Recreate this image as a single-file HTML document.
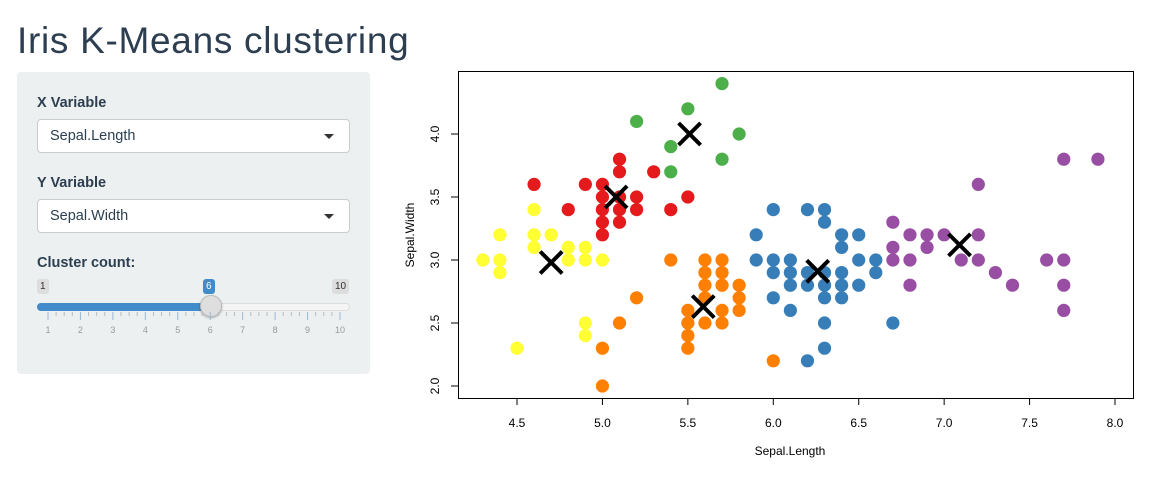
<!DOCTYPE html>
<html><head><meta charset="utf-8">
<style>
body{margin:0;width:1152px;height:499px;background:#fff;font-family:"Liberation Sans",sans-serif;color:#2c3e50;position:relative;overflow:hidden}
h1{position:absolute;left:17px;top:17px;margin:0;font-weight:normal;font-size:37px;line-height:48px;letter-spacing:0.7px}
.panel{position:absolute;left:17px;top:72px;width:353px;height:302px;background:#ecf0f1;border-radius:4px}
.lab{position:absolute;left:20px;font-weight:bold;font-size:14.5px}
.sel{position:absolute;left:20px;width:311px;height:32px;background:#fff;border:1px solid #ccc;border-radius:4px;font-size:14.5px;line-height:32px;box-sizing:content-box}
.sel span{margin-left:12px}
.sel i{position:absolute;right:15px;top:14px;border-left:5px solid transparent;border-right:5px solid transparent;border-top:5px solid #333}
.badge{position:absolute;font-size:10px;height:15px;line-height:15px;padding:0 3px;border-radius:3px;background:#ddd;color:#333}
</style></head><body>
<h1>Iris K-Means clustering</h1>
<div class="panel">
<div class="lab" style="top:23px">X Variable</div>
<div class="sel" style="top:47px"><span>Sepal.Length</span><i></i></div>
<div class="lab" style="top:103px">Y Variable</div>
<div class="sel" style="top:127px"><span>Sepal.Width</span><i></i></div>
<div class="lab" style="top:183px">Cluster count:</div>
<div class="badge" style="left:20px;top:207px">1</div>
<div class="badge" style="left:186px;top:207px;background:#428bca;color:#fff">6</div>
<div class="badge" style="left:315px;top:207px">10</div>
<div style="position:absolute;left:20px;top:231px;width:311px;height:6px;border-radius:4px;background:#f5f5f5;border:1px solid #ddd"></div>
<div style="position:absolute;left:20px;top:231px;width:173px;height:8px;border-radius:4px 0 0 4px;background:#428bca"></div>
<div style="position:absolute;left:183px;top:223px;width:20px;height:20px;border-radius:50%;background:#dedede;border:1px solid #bbb;box-shadow:0 1px 2px rgba(0,0,0,.3)"></div>
<svg id="ticks" style="position:absolute;left:0;top:0" width="353" height="302"></svg>
</div>
<svg id="plot" style="position:absolute;left:0;top:0" width="1152" height="499"></svg>
<script>
var t=document.getElementById('ticks'),s='';
for(var i=0;i<=36;i++){var x=31+i*(292/36);var maj=i%4==0;s+='<line x1="'+x+'" x2="'+x+'" y1="240" y2="'+(maj?248:244)+'" stroke="'+(maj?'#9ab8d6':'#bbb')+'" stroke-width="1"/>';if(maj)s+='<text x="'+x+'" y="261" font-size="9" fill="#999" text-anchor="middle" font-family="Liberation Sans">'+(i/4+1)+'</text>';}
t.innerHTML=s;
function X(v){return 517+(v-4.5)*170.86}function Y(v){return 386-(v-2)*126}
var C={r:'#E41A1C',b:'#377EB8',g:'#4DAF4A',p:'#984EA3',o:'#FF7F00',y:'#FFFF33'};
var P={
y:[[4.3,3],[4.4,3.2],[4.4,3],[4.4,2.9],[4.6,3.4],[4.6,3.2],[4.7,3.2],[4.6,3.1],[4.8,3.1],[4.9,3.1],[4.8,3],[4.9,3],[5,3],[4.9,2.5],[4.9,2.4],[4.5,2.3]],
r:[[4.6,3.6],[4.8,3.4],[4.9,3.6],[5,3.6],[5,3.5],[5,3.4],[5,3.3],[5,3.2],[5.1,3.8],[5.1,3.7],[5.1,3.4],[5.1,3.3],[5.1,3.5],[5.2,3.5],[5.2,3.4],[5.3,3.7],[5.4,3.4],[5.5,3.5]],
g:[[5.2,4.1],[5.4,3.9],[5.4,3.7],[5.5,4.2],[5.7,4.4],[5.8,4],[5.7,3.8]],
o:[[5.4,3],[5.2,2.7],[5.1,2.5],[5,2.3],[5,2],[5.5,2.6],[5.5,2.5],[5.5,2.4],[5.5,2.3],[5.6,3],[5.6,2.9],[5.6,2.8],[5.6,2.7],[5.6,2.5],[5.7,3],[5.7,2.9],[5.7,2.8],[5.7,2.6],[5.7,2.5],[5.8,2.8],[5.8,2.7],[5.8,2.6],[6,2.2]],
b:[[5.9,3.2],[5.9,3],[6,3.4],[6,3],[6,2.9],[6,2.7],[6.1,3],[6.1,2.9],[6.1,2.8],[6.1,2.6],[6.2,3.4],[6.2,2.9],[6.2,2.8],[6.2,2.2],[6.3,3.4],[6.3,3.3],[6.3,2.9],[6.3,2.8],[6.3,2.7],[6.3,2.5],[6.3,2.3],[6.4,3.2],[6.4,3.1],[6.4,2.9],[6.4,2.8],[6.4,2.7],[6.5,3.2],[6.5,3],[6.5,2.8],[6.6,3],[6.6,2.9],[6.7,2.5]],
p:[[6.7,3.3],[6.7,3.1],[6.7,3],[6.8,3.2],[6.8,3],[6.8,2.8],[6.9,3.2],[6.9,3.1],[7,3.2],[7.1,3],[7.2,3.6],[7.2,3.2],[7.2,3],[7.3,2.9],[7.4,2.8],[7.6,3],[7.7,3.8],[7.7,3],[7.7,2.8],[7.7,2.6],[7.9,3.8]]};
var o='<rect x="458.5" y="71.5" width="675" height="327" fill="none" stroke="#000"/>';
for(var k in P)P[k].forEach(function(p){o+='<circle cx="'+X(p[0])+'" cy="'+Y(p[1])+'" r="6.6" fill="'+C[k]+'"/>';});
[[5.51,4.0],[5.08,3.5],[4.7,2.98],[5.59,2.63],[6.26,2.91],[7.09,3.12]].forEach(function(c){var x=X(c[0]),y=Y(c[1]);o+='<path d="M'+(x-11)+' '+(y-11)+'L'+(x+11)+' '+(y+11)+'M'+(x+11)+' '+(y-11)+'L'+(x-11)+' '+(y+11)+'" stroke="#000" stroke-width="4"/>';});
[4.5,5,5.5,6,6.5,7,7.5,8].forEach(function(v){var x=X(v);o+='<line x1="'+x+'" x2="'+x+'" y1="398" y2="405" stroke="#000"/><text x="'+x+'" y="427" font-size="12" text-anchor="middle">'+v.toFixed(1)+'</text>';});
[2,2.5,3,3.5,4].forEach(function(v){var y=Y(v);o+='<line x1="451" x2="458" y1="'+y+'" y2="'+y+'" stroke="#000"/><text transform="translate(439,'+y+') rotate(-90)" font-size="12" text-anchor="middle">'+v.toFixed(1)+'</text>';});
o+='<text x="790" y="455" font-size="12" text-anchor="middle">Sepal.Length</text><text transform="translate(414,235) rotate(-90)" font-size="12" text-anchor="middle">Sepal.Width</text>';
document.getElementById('plot').innerHTML=o;
</script>
</body></html>
